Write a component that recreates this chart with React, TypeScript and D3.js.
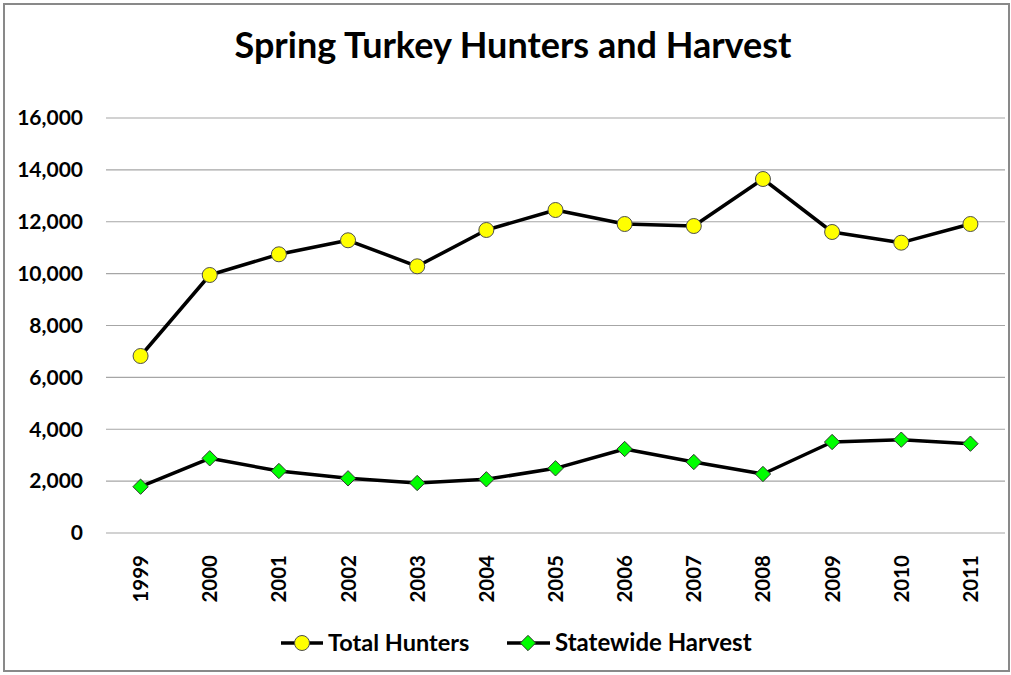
import React from "react";
import * as d3 from "d3";

const years = ["1999", "2000", "2001", "2002", "2003", "2004", "2005", "2006", "2007", "2008", "2009", "2010", "2011"];
const totalHunters = [6824, 9947, 10745, 11285, 10282, 11682, 12453, 11913, 11836, 13648, 11605, 11193, 11913];
const statewideHarvest = [1785, 2880, 2390, 2109, 1928, 2070, 2494, 3239, 2737, 2275, 3508, 3598, 3443];
const yTicks = [0, 2000, 4000, 6000, 8000, 10000, 12000, 14000, 16000];

const W = 1011;
const H = 675;
const margin = { top: 118, right: 6, bottom: 142, left: 106 };
const font = "Lato, 'Open Sans', sans-serif";

export default function App() {
  const innerW = W - margin.left - margin.right;
  const innerH = H - margin.top - margin.bottom;

  const x = d3.scaleBand().domain(years).range([0, innerW]);
  const y = d3.scaleLinear().domain([0, 16000]).range([innerH, 0]);
  const cx = (d: string) => (x(d) as number) + x.bandwidth() / 2;

  const line = d3.line<number>().x((_, i) => cx(years[i])).y(d => y(d));
  const fmt = d3.format(",");
  const diamond = d3.symbol().type(d3.symbolDiamond2).size(150)() as string;

  return (
    <div style={{ position: "absolute", left: 0, top: 0 }}>
      <svg width={W} height={H} style={{ display: "block", background: "#fff" }}>
        <rect x={4} y={4} width={W - 6} height={H - 8} fill="#fff" stroke="#898989" strokeWidth={2} />
        <text x={513} y={58} textAnchor="middle" fontFamily={font} fontWeight="bold" fontSize={36} fill="#000">
          Spring Turkey Hunters and Harvest
        </text>
        <g transform={`translate(${margin.left},${margin.top})`}>
          {yTicks.map(t => (
            <g key={t}>
              <line x1={0} x2={innerW} y1={y(t)} y2={y(t)} stroke="#a6a6a6" strokeWidth={1.2} />
              <text x={-23} y={y(t)} dy="0.35em" textAnchor="end" fontFamily={font} fontWeight="bold" fontSize={21} fill="#000">
                {fmt(t)}
              </text>
            </g>
          ))}
          {years.map(yr => (
            <text key={yr} transform={`translate(${cx(yr) + 7.5},${innerH + 22}) rotate(-90)`} textAnchor="end"
              fontFamily={font} fontWeight="bold" fontSize={20.5} fill="#000">
              {yr}
            </text>
          ))}
          <path d={line(totalHunters) as string} fill="none" stroke="#000" strokeWidth={3.5} strokeLinejoin="round" />
          <path d={line(statewideHarvest) as string} fill="none" stroke="#000" strokeWidth={3.5} strokeLinejoin="round" />
          {totalHunters.map((v, i) => (
            <circle key={i} cx={cx(years[i])} cy={y(v)} r={7.5} fill="#ffff00" stroke="#4d4d4d" strokeWidth={1} />
          ))}
          {statewideHarvest.map((v, i) => (
            <path key={i} d={diamond} transform={`translate(${cx(years[i])},${y(v)})`} fill="#00ff00" stroke="#333" strokeWidth={1} />
          ))}
        </g>
        <g transform="translate(0,643)">
          <line x1={281} x2={323} y1={0} y2={0} stroke="#000" strokeWidth={3.5} />
          <circle cx={302} cy={0} r={7.5} fill="#ffff00" stroke="#4d4d4d" strokeWidth={1} />
          <text x={328} y={0} dy="0.35em" fontFamily={font} fontWeight="bold" fontSize={23.5} fill="#000">Total Hunters</text>
          <line x1={507} x2={550} y1={0} y2={0} stroke="#000" strokeWidth={3.5} />
          <path d={diamond} transform="translate(528,0)" fill="#00ff00" stroke="#333" strokeWidth={1} />
          <text x={555} y={0} dy="0.35em" fontFamily={font} fontWeight="bold" fontSize={24} fill="#000">Statewide Harvest</text>
        </g>
      </svg>
    </div>
  );
}
